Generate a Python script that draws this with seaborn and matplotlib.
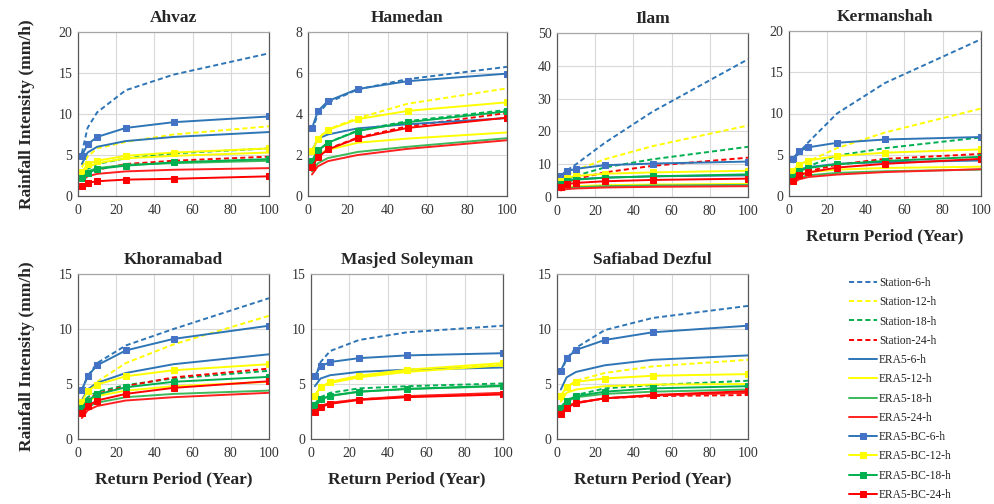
"""IDF curves: station vs ERA5 vs bias-corrected ERA5 for seven stations."""

import matplotlib
matplotlib.use("Agg")
import matplotlib.pyplot as plt
import seaborn as sns

PERIODS = [2, 5, 10, 25, 50, 100]
DURATIONS = ["6", "12", "18", "24"]
SOURCES = ["Station", "ERA5", "ERA5-BC"]

# intensity (mm/h) per series, read at return periods 2, 5, 10, 25, 50, 100
AHVAZ = {
    "Station-6-h": [5.2, 8.3, 10.2, 12.9, 14.8, 17.4],
    "Station-12-h": [3.5, 4.8, 5.8, 6.6, 7.5, 8.5],
    "Station-18-h": [2.5, 3.3, 3.9, 4.6, 5.2, 5.8],
    "Station-24-h": [1.8, 2.6, 3.2, 3.9, 4.3, 4.8],
    "ERA5-6-h": [3.9, 5.3, 6.0, 6.7, 7.2, 7.8],
    "ERA5-12-h": [2.6, 3.5, 4.0, 4.6, 4.9, 5.3],
    "ERA5-18-h": [2.3, 3.0, 3.4, 3.8, 4.0, 4.3],
    "ERA5-24-h": [1.8, 2.4, 2.7, 3.0, 3.2, 3.4],
    "ERA5-BC-6-h": [4.9, 6.3, 7.2, 8.3, 9.0, 9.7],
    "ERA5-BC-12-h": [2.9, 3.9, 4.3, 4.9, 5.3, 5.8],
    "ERA5-BC-18-h": [2.2, 2.8, 3.3, 3.7, 4.1, 4.5],
    "ERA5-BC-24-h": [1.2, 1.6, 1.8, 2.0, 2.1, 2.4],
}
HAMEDAN = {
    "Station-6-h": [3.2, 4.0, 4.55, 5.2, 5.7, 6.3],
    "Station-12-h": [2.2, 2.8, 3.25, 3.8, 4.5, 5.25],
    "Station-18-h": [1.7, 2.2, 2.6, 3.2, 3.65, 4.2],
    "Station-24-h": [1.4, 1.9, 2.3, 2.85, 3.4, 4.05],
    "ERA5-6-h": [2.2, 2.8, 3.0, 3.3, 3.5, 3.8],
    "ERA5-12-h": [1.5, 2.0, 2.25, 2.6, 2.8, 3.1],
    "ERA5-18-h": [1.2, 1.6, 1.85, 2.15, 2.4, 2.82],
    "ERA5-24-h": [1.05, 1.45, 1.7, 2.0, 2.3, 2.72],
    "ERA5-BC-6-h": [3.3, 4.15, 4.63, 5.22, 5.6, 5.97],
    "ERA5-BC-12-h": [2.2, 2.78, 3.22, 3.75, 4.15, 4.57],
    "ERA5-BC-18-h": [1.72, 2.22, 2.6, 3.17, 3.6, 4.13],
    "ERA5-BC-24-h": [1.42, 1.9, 2.27, 2.82, 3.32, 3.82],
}
ILAM = {
    "Station-6-h": [6.5, 8.0, 10.0, 16.5, 26.0, 42.0],
    "Station-12-h": [5.0, 6.5, 8.2, 11.5, 15.5, 21.8],
    "Station-18-h": [4.3, 5.3, 6.5, 9.0, 11.5, 15.3],
    "Station-24-h": [3.5, 4.5, 5.5, 7.5, 9.5, 12.0],
    "ERA5-6-h": [4.2, 5.0, 5.4, 5.9, 6.3, 6.6],
    "ERA5-12-h": [2.6, 3.0, 3.3, 3.6, 3.8, 4.0],
    "ERA5-18-h": [2.3, 2.7, 3.0, 3.3, 3.5, 3.7],
    "ERA5-24-h": [2.0, 2.4, 2.6, 2.9, 3.1, 3.3],
    "ERA5-BC-6-h": [6.5, 7.8, 8.6, 9.7, 10.2, 10.8],
    "ERA5-BC-12-h": [4.8, 5.9, 6.4, 7.1, 7.5, 8.0],
    "ERA5-BC-18-h": [4.0, 4.8, 5.3, 5.9, 6.3, 6.9],
    "ERA5-BC-24-h": [3.0, 3.9, 4.3, 4.8, 5.2, 5.6],
}
KERMANSHAH = {
    "Station-6-h": [4.0, 5.2, 6.5, 10.0, 13.7, 19.0],
    "Station-12-h": [2.6, 3.5, 4.2, 5.8, 7.7, 10.6],
    "Station-18-h": [2.3, 3.0, 3.6, 4.9, 5.8, 7.1],
    "Station-24-h": [2.0, 2.5, 3.0, 3.8, 4.5, 5.1],
    "ERA5-6-h": [2.4, 3.2, 3.5, 3.9, 4.1, 4.3],
    "ERA5-12-h": [2.0, 2.6, 2.9, 3.2, 3.4, 3.55],
    "ERA5-18-h": [1.7, 2.2, 2.5, 2.8, 3.0, 3.2],
    "ERA5-24-h": [1.5, 2.0, 2.3, 2.6, 2.9, 3.25],
    "ERA5-BC-6-h": [4.5, 5.4, 5.9, 6.45, 6.85, 7.15],
    "ERA5-BC-12-h": [3.0, 3.8, 4.3, 4.85, 5.25, 5.65],
    "ERA5-BC-18-h": [2.3, 3.0, 3.4, 3.85, 4.25, 4.75],
    "ERA5-BC-24-h": [1.85, 2.5, 2.85, 3.45, 3.9, 4.5],
}
KHORAMABAD = {
    "Station-6-h": [4.4, 5.7, 6.9, 8.5, 10.0, 12.8],
    "Station-12-h": [3.5, 4.4, 5.2, 6.9, 8.6, 11.2],
    "Station-18-h": [3.0, 3.8, 4.3, 4.9, 5.5, 6.2],
    "Station-24-h": [2.8, 3.6, 4.1, 4.8, 5.6, 6.4],
    "ERA5-6-h": [3.5, 4.5, 5.1, 6.0, 6.8, 7.7],
    "ERA5-12-h": [2.6, 3.4, 3.9, 4.4, 4.8, 5.2],
    "ERA5-18-h": [2.2, 2.9, 3.3, 3.8, 4.1, 4.4],
    "ERA5-24-h": [1.9, 2.6, 3.0, 3.5, 3.8, 4.2],
    "ERA5-BC-6-h": [4.45, 5.7, 6.7, 8.05, 9.1, 10.3],
    "ERA5-BC-12-h": [3.35, 4.35, 4.95, 5.7, 6.25, 6.8],
    "ERA5-BC-18-h": [2.85, 3.5, 4.05, 4.7, 5.2, 5.65],
    "ERA5-BC-24-h": [2.4, 3.0, 3.5, 4.1, 4.65, 5.25],
}
MASJED_SOLEYMAN = {
    "Station-6-h": [5.5, 7.0, 8.0, 9.0, 9.7, 10.3],
    "Station-12-h": [3.9, 4.6, 5.1, 5.7, 6.2, 6.8],
    "Station-18-h": [3.2, 3.8, 4.2, 4.6, 4.8, 5.05],
    "Station-24-h": [2.5, 2.95, 3.25, 3.6, 3.85, 4.15],
    "ERA5-6-h": [4.8, 5.5, 5.8, 6.1, 6.3, 6.5],
    "ERA5-12-h": [4.0, 4.7, 5.1, 5.6, 6.1, 6.7],
    "ERA5-18-h": [3.1, 3.6, 3.9, 4.3, 4.55, 4.8],
    "ERA5-24-h": [2.6, 3.0, 3.3, 3.6, 3.9, 4.2],
    "ERA5-BC-6-h": [5.75, 6.6, 7.0, 7.35, 7.6, 7.8],
    "ERA5-BC-12-h": [3.95, 4.7, 5.2, 5.75, 6.3, 6.9],
    "ERA5-BC-18-h": [3.1, 3.6, 3.95, 4.3, 4.55, 4.85],
    "ERA5-BC-24-h": [2.5, 2.9, 3.2, 3.55, 3.8, 4.05],
}
SAFIABAD_DEZFUL = {
    "Station-6-h": [6.0, 7.3, 8.3, 9.9, 11.0, 12.1],
    "Station-12-h": [3.7, 4.7, 5.3, 6.0, 6.6, 7.2],
    "Station-18-h": [2.9, 3.5, 4.0, 4.6, 4.9, 5.3],
    "Station-24-h": [2.4, 3.0, 3.3, 3.7, 3.9, 4.0],
    "ERA5-6-h": [4.5, 5.6, 6.1, 6.7, 7.2, 7.6],
    "ERA5-12-h": [3.4, 4.2, 4.5, 4.8, 4.95, 5.0],
    "ERA5-18-h": [2.7, 3.4, 3.8, 4.1, 4.3, 4.5],
    "ERA5-24-h": [2.4, 3.0, 3.3, 3.7, 3.95, 4.2],
    "ERA5-BC-6-h": [6.2, 7.35, 8.1, 9.0, 9.7, 10.3],
    "ERA5-BC-12-h": [3.95, 4.75, 5.2, 5.5, 5.75, 5.9],
    "ERA5-BC-18-h": [2.8, 3.5, 3.9, 4.3, 4.6, 4.8],
    "ERA5-BC-24-h": [2.3, 2.85, 3.25, 3.7, 4.0, 4.35],
}

# (title, data, ymax, ystep, axes box in pixels: left, top, right, bottom)
PANELS = [
    ("Ahvaz", AHVAZ, 20, 5, (78, 32, 269, 196)),
    ("Hamedan", HAMEDAN, 8, 2, (308, 32, 507, 196)),
    ("Ilam", ILAM, 50, 10, (557, 33, 748, 197)),
    ("Kermanshah", KERMANSHAH, 20, 5, (789, 31, 981, 196)),
    ("Khoramabad", KHORAMABAD, 15, 5, (78, 274, 269, 439)),
    ("Masjed Soleyman", MASJED_SOLEYMAN, 15, 5, (311, 274, 503, 439)),
    ("Safiabad Dezful", SAFIABAD_DEZFUL, 15, 5, (557, 274, 748, 439)),
]
YLABEL_PANELS = {"Ahvaz", "Khoramabad"}
XLABEL_PANELS = {"Kermanshah", "Khoramabad", "Masjed Soleyman", "Safiabad Dezful"}

COLORS = {"6": "#2E75B6", "12": "#FFFF00", "18": "#00B050", "24": "#FF0000"}
ERA5_COLORS = {"6": "#2E75B6", "12": "#FFFF00", "18": "#3CB95A", "24": "#FF2020"}
MARKER_COLORS = {"6": "#4472C4", "12": "#FFFF00", "18": "#00B050", "24": "#FF0000"}

W, H = 994, 504

sns.set_style("white")
plt.rcParams["font.family"] = ["Liberation Serif", "DejaVu Serif"]


def draw_panel(fig, title, data, ymax, ystep, box):
    left, top, right, bottom = box
    ax = fig.add_axes([left / W, 1 - bottom / H, (right - left) / W, (bottom - top) / H])

    for source in SOURCES:
        for dur in DURATIONS:
            name = f"{source}-{dur}-h"
            kw = dict(linewidth=1.4, label=name)
            if source == "Station":
                kw.update(color=COLORS[dur], linestyle=(0, (2.6, 1.6)))
            elif source == "ERA5":
                kw.update(color=ERA5_COLORS[dur], linestyle="-")
            else:
                kw.update(color=COLORS[dur], linestyle="-", marker="s", markersize=4.3,
                          markerfacecolor=MARKER_COLORS[dur], markeredgecolor=MARKER_COLORS[dur])
            sns.lineplot(x=PERIODS, y=data[name], ax=ax, **kw)

    if ax.get_legend() is not None:
        ax.get_legend().remove()

    ax.set_xlim(0, 100)
    ax.set_ylim(0, ymax)
    ax.set_xticks(range(0, 101, 20))
    ax.set_yticks(range(0, ymax + 1, ystep))
    ax.grid(True, color="#D9D9D9", linewidth=0.8)
    ax.set_axisbelow(True)
    ax.tick_params(axis="both", length=0, labelsize=10, colors="#333333")
    ax.tick_params(axis="x", pad=6)
    ax.tick_params(axis="y", pad=4)
    for side in ("left", "bottom", "right"):
        ax.spines[side].set_color("#595959")
        ax.spines[side].set_linewidth(0.9)
    ax.spines["top"].set_color("#A6A6A6")
    ax.spines["top"].set_linewidth(0.9)

    ax.set_title(title, fontsize=12.5, fontweight="bold", pad=7)
    if title in YLABEL_PANELS:
        ax.set_ylabel("Rainfall Intensity (mm/h)", fontsize=12.5, fontweight="bold", labelpad=17)
    else:
        ax.set_ylabel("")
    if title in XLABEL_PANELS:
        ax.set_xlabel("Return Period (Year)", fontsize=12.5, fontweight="bold", labelpad=8)
    else:
        ax.set_xlabel("")
    return ax


def main() -> None:
    fig = plt.figure(figsize=(W / 100, H / 100), dpi=100)
    axes = [draw_panel(fig, *panel) for panel in PANELS]

    handles, labels = axes[0].get_legend_handles_labels()
    fig.legend(handles, labels, loc="upper left", bbox_to_anchor=(849 / W, 1 - 277 / H),
               frameon=False, fontsize=8.3, labelspacing=0.63, handlelength=2.4,
               handletextpad=0.2, borderpad=0, borderaxespad=0)

    fig.savefig("out.png", dpi=100)
    plt.close(fig)


if __name__ == "__main__":
    main()
